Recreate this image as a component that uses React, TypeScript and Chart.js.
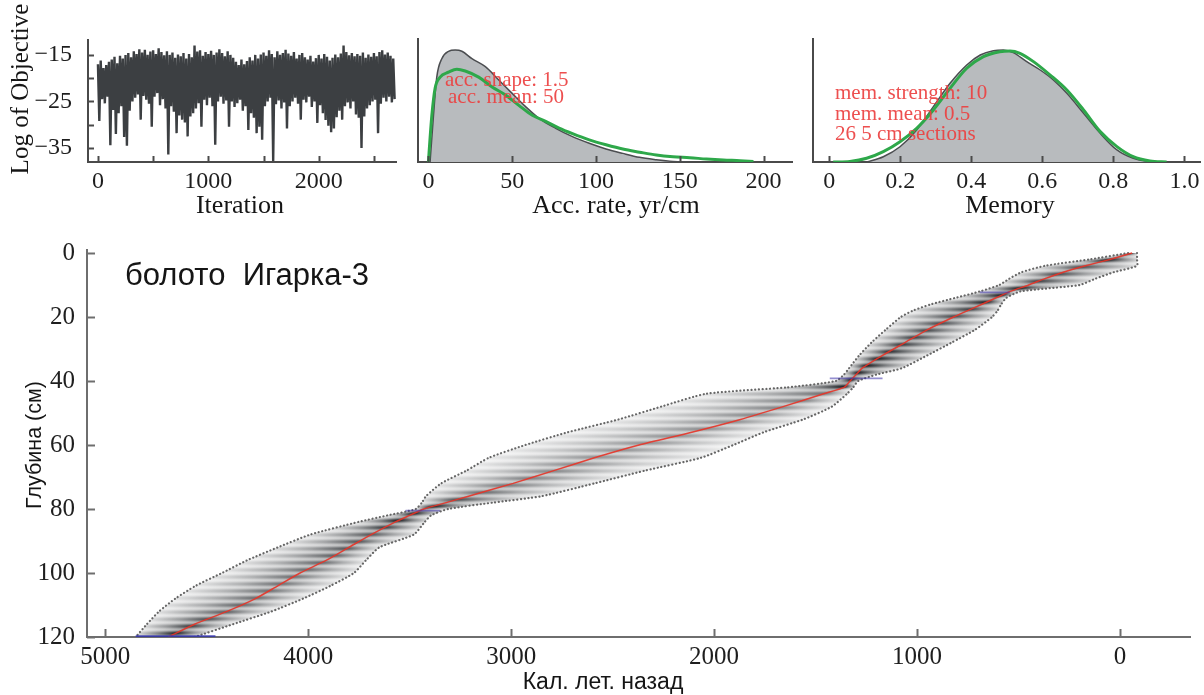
import React, { useEffect, useRef } from 'react';
import { Chart, registerables } from 'chart.js';
Chart.register(...registerables);

const SERIF = '"Liberation Serif", "Times New Roman", serif';
const SANS = '"Liberation Sans", Arial, sans-serif';

// ---------- Panel 1: MCMC trace (log of objective), read per 25-iteration bin ----------
const traceBinStep = 25;
const traceHigh = [
  -17.0, -16.2, -17.8, -17.2, -16.5, -16.0, -15.4, -16.8, -15.2, -15.8,
  -15.0, -14.6, -15.5, -14.2, -14.8, -13.8, -14.5, -13.9, -15.0, -14.3,
  -14.0, -14.8, -13.6, -14.4, -15.1, -14.2, -15.0, -14.5, -15.6, -14.9,
  -15.3, -14.6, -15.8, -14.8, -15.5, -13.0, -14.3, -14.0, -15.2, -14.4,
  -14.8, -14.1, -15.0, -14.5, -13.8, -14.6, -15.3, -14.2, -15.0, -15.6,
  -16.5, -17.2, -16.0, -17.0, -16.3, -15.5, -16.2, -15.0, -15.8, -14.9,
  -14.5, -15.2, -14.0, -14.8, -15.5, -14.2, -15.0, -14.6, -13.9, -14.7,
  -15.2, -14.4, -15.8, -15.0, -14.6, -15.5, -16.0, -15.2, -16.4, -15.7,
  -15.0, -15.8, -14.8, -15.4, -16.2, -15.6, -14.9, -15.5, -14.7, -13.0,
  -14.4, -15.1, -14.6, -15.3, -14.8, -15.2, -14.5, -15.6, -14.9, -15.4,
  -14.6, -15.3, -14.4, -14.0, -14.9, -14.5, -15.2, -15.8,
];
const traceLow = [
  -29.2, -24.5, -25.4, -24.0, -34.4, -26.8, -32.0, -27.5, -26.0, -32.6,
  -34.5, -27.0, -25.0, -24.2, -23.5, -28.9, -23.8, -24.6, -25.5, -30.4,
  -24.0, -23.2, -25.8, -24.5, -26.5, -36.4, -26.0, -27.2, -31.8, -28.0,
  -28.9, -29.5, -32.5, -28.2, -27.5, -26.5, -25.4, -30.4, -24.6, -25.8,
  -24.2, -26.0, -34.3, -25.0, -24.0, -25.5, -24.8, -30.4, -25.0, -26.2,
  -25.4, -24.6, -27.0, -26.0, -31.1, -27.5, -28.5, -31.8, -30.4, -33.2,
  -26.0, -25.0, -24.2, -37.8, -25.6, -24.8, -26.5, -25.2, -30.8, -26.0,
  -25.0, -24.2, -25.5, -28.9, -24.6, -25.2, -24.0, -26.2, -25.0, -29.6,
  -25.8, -27.5, -29.0, -30.2, -31.6, -30.8, -28.4, -27.0, -28.9, -26.0,
  -25.2, -26.5, -25.0, -27.8, -28.5, -35.0, -28.2, -26.5, -25.8, -25.0,
  -24.6, -31.8, -25.5, -24.2, -25.0, -24.0, -25.2, -24.5,
];
const traceYTicks = [-35, -30, -25, -20, -15];
const traceYLabels = ['−35', '', '−25', '', '−15'];
const traceXTicks = [0, 500, 1000, 1500, 2000, 2500];
const traceXLabels = ['0', '', '1000', '', '2000', ''];

// ---------- Panel 2: accumulation rate ----------
const accPostX = [1, 3, 5, 8, 12, 16, 20, 26, 34, 42, 50, 58, 66, 76, 86, 96, 106, 116, 126, 136, 146, 156];
const accPostY = [0, 0.37, 0.69, 0.84, 0.9, 0.91, 0.9, 0.84, 0.775, 0.667, 0.558, 0.45, 0.355, 0.274, 0.206, 0.152, 0.106, 0.07, 0.038, 0.019, 0.005, 0];
const accPriorX = [0, 2, 4, 7, 12, 17, 22, 30, 38, 46, 54, 62, 70, 78, 86, 96, 106, 116, 126, 136, 146, 156, 166, 176, 186, 194];
const accPriorY = [0, 0.37, 0.6, 0.69, 0.73, 0.755, 0.74, 0.69, 0.61, 0.545, 0.46, 0.38, 0.33, 0.275, 0.23, 0.18, 0.14, 0.105, 0.08, 0.057, 0.043, 0.035, 0.024, 0.016, 0.011, 0.005];
const accTicks = [0, 50, 100, 150, 200];

// ---------- Panel 3: memory ----------
const memPostX = [0.105, 0.152, 0.199, 0.246, 0.293, 0.34, 0.387, 0.425, 0.462, 0.49, 0.518, 0.556, 0.594, 0.631, 0.669, 0.716, 0.763, 0.81, 0.856, 0.903, 0.931];
const memPostY = [0, 0.043, 0.124, 0.26, 0.45, 0.64, 0.789, 0.87, 0.905, 0.911, 0.889, 0.816, 0.748, 0.667, 0.558, 0.396, 0.233, 0.098, 0.03, 0.003, 0];
const memPriorX = [0.011, 0.058, 0.105, 0.152, 0.199, 0.246, 0.293, 0.34, 0.387, 0.434, 0.48, 0.509, 0.537, 0.575, 0.622, 0.669, 0.716, 0.763, 0.81, 0.856, 0.903, 0.95];
const memPriorY = [0, 0.005, 0.03, 0.084, 0.165, 0.274, 0.423, 0.599, 0.762, 0.857, 0.897, 0.903, 0.884, 0.816, 0.707, 0.585, 0.423, 0.247, 0.125, 0.043, 0.008, 0];
const memTicks = [0, 0.2, 0.4, 0.6, 0.8, 1.0];
const memTickLabels = ['0', '0.2', '0.4', '0.6', '0.8', '1.0'];

// ---------- Main: age-depth model ----------
const depthCm = [0, 2, 4, 6, 8, 10, 12, 14, 16, 18, 20, 24, 28, 32, 36, 38, 40, 42, 44, 48, 52, 56, 60, 64, 68, 72, 76, 78, 80, 82, 84, 88, 92, 96, 100, 104, 108, 112, 116, 120];
const ageMedian = [-60, 50, 170, 280, 370, 450, 540, 610, 680, 750, 820, 950, 1060, 1170, 1270, 1300, 1330, 1360, 1460, 1660, 1870, 2110, 2370, 2590, 2790, 2990, 3210, 3320, 3430, 3500, 3570, 3690, 3800, 3910, 4040, 4150, 4260, 4400, 4560, 4690];
const ageMax = [-40, 150, 370, 485, 545, 595, 690, 810, 930, 1020, 1080, 1155, 1225, 1285, 1335, 1360, 1400, 1640, 2040, 2260, 2470, 2720, 2930, 3110, 3220, 3345, 3420, 3440, 3470, 3610, 3750, 3990, 4150, 4300, 4425, 4555, 4655, 4735, 4795, 4850];
const ageMin = [-84, -84, -84, 30, 120, 200, 490, 560, 585, 603, 630, 715, 830, 950, 1075, 1200, 1290, 1315, 1345, 1420, 1560, 1755, 1905, 2065, 2340, 2590, 2850, 3090, 3310, 3395, 3425, 3480, 3650, 3715, 3775, 3890, 4025, 4180, 4370, 4560];
const dateDepth = [12.3, 39.2, 80.5, 120];
const dateOld = [690, 1430, 3520, 4850];
const dateYoung = [543, 1170, 3350, 4457];
const mainYTicks = [0, 20, 40, 60, 80, 100, 120];
const mainXTicks = [0, 1000, 2000, 3000, 4000, 5000];

type TextItem = { text: string; x: number; y: number; font: string; color?: string; align?: CanvasTextAlign; baseline?: CanvasTextBaseline; rotate?: number };

const textPlugin = (items: TextItem[]) => ({
  id: 'texts',
  afterDraw(chart: any) {
    const ctx = chart.ctx;
    items.forEach((it) => {
      ctx.save();
      ctx.font = it.font;
      ctx.fillStyle = it.color || '#151515';
      ctx.textAlign = it.align || 'left';
      ctx.textBaseline = it.baseline || 'alphabetic';
      ctx.translate(it.x, it.y);
      if (it.rotate) ctx.rotate(it.rotate);
      ctx.fillText(it.text, 0, 0);
      ctx.restore();
    });
  },
});

const inwardTicks = (xLen: number, yLen: number, color: string, width: number) => ({
  id: 'inTicks',
  afterDraw(chart: any) {
    const { ctx, chartArea } = chart;
    ctx.save();
    ctx.strokeStyle = color;
    ctx.lineWidth = width;
    if (xLen > 0) {
      const s = chart.scales.x;
      s.ticks.forEach((t: any) => {
        const px = Math.round(s.getPixelForValue(t.value)) + 0.5;
        ctx.beginPath();
        ctx.moveTo(px, chartArea.bottom);
        ctx.lineTo(px, chartArea.bottom - xLen);
        ctx.stroke();
      });
    }
    if (yLen > 0) {
      const s = chart.scales.y;
      s.ticks.forEach((t: any) => {
        const py = Math.round(s.getPixelForValue(t.value)) + 0.5;
        ctx.beginPath();
        ctx.moveTo(chartArea.left, py);
        ctx.lineTo(chartArea.left + yLen, py);
        ctx.stroke();
      });
    }
    ctx.restore();
  },
});

const lerp = (a: number, b: number, t: number) => a + (b - a) * t;

const bandPlugin = {
  id: 'band',
  beforeDatasetsDraw(chart: any) {
    const { ctx, chartArea } = chart;
    const x = chart.scales.x;
    const y = chart.scales.y;
    ctx.save();
    ctx.beginPath();
    ctx.rect(chartArea.left, chartArea.top, chartArea.right - chartArea.left, chartArea.bottom - chartArea.top);
    ctx.clip();
    const yTop = y.getPixelForValue(depthCm[0]);
    const yBot = y.getPixelForValue(depthCm[depthCm.length - 1]);
    let j = 0;
    for (let py = Math.floor(yTop); py < Math.ceil(yBot); py++) {
      const d = y.getValueForPixel(py + 0.5);
      while (j < depthCm.length - 2 && depthCm[j + 1] < d) j++;
      const t = Math.max(0, Math.min(1, (d - depthCm[j]) / (depthCm[j + 1] - depthCm[j])));
      const xl = x.getPixelForValue(lerp(ageMax[j], ageMax[j + 1], t));
      const xr = x.getPixelForValue(lerp(ageMin[j], ageMin[j + 1], t));
      const xm = x.getPixelForValue(lerp(ageMedian[j], ageMedian[j + 1], t));
      const w = Math.max(2, xr - xl);
      const stripe = 0.72 + 0.28 * Math.cos((2 * Math.PI * d) / 2.2);
      const a = Math.min(0.97, Math.pow(60 / w, 0.6)) * stripe;
      const m = Math.max(0.05, Math.min(0.95, (xm - xl) / w));
      const g = ctx.createLinearGradient(xl, 0, xl + w, 0);
      const c = (k: number) => `rgba(22,26,30,${Math.min(1, a * k).toFixed(3)})`;
      g.addColorStop(0, c(0.2));
      g.addColorStop(m * 0.5, c(0.55));
      g.addColorStop(m, c(1));
      g.addColorStop(m + (1 - m) * 0.5, c(0.55));
      g.addColorStop(1, c(0.2));
      ctx.fillStyle = g;
      ctx.fillRect(xl, py, w, 1);
    }
    ctx.restore();
  },
};

const xy = (xs: number[], ys: number[]) => xs.map((v, i) => ({ x: v, y: ys[i] }));

function linAxis(opts: any) {
  const { min, max, tickVals, labels, size, padding, fit, horizontal, reverse, color, bw, showLabels = true } = opts;
  return {
    type: 'linear',
    min,
    max,
    reverse: !!reverse,
    afterBuildTicks: (s: any) => {
      s.ticks = tickVals.map((v: number) => ({ value: v }));
    },
    afterFit: (s: any) => {
      if (horizontal) s.height = fit;
      else s.width = fit;
    },
    grid: { display: false },
    border: { display: true, color, width: bw },
    ticks: {
      display: showLabels,
      font: { family: SERIF, size },
      color: '#1e1e1e',
      padding,
      maxRotation: 0,
      minRotation: 0,
      autoSkip: false,
      callback: (v: number) => {
        const i = tickVals.indexOf(v);
        return labels ? labels[i] : String(v);
      },
    },
  };
}

const baseOpts = (padding: any) => ({
  responsive: false,
  animation: false,
  events: [],
  layout: { padding },
  plugins: { legend: { display: false }, tooltip: { enabled: false }, title: { display: false } },
});

export default function App() {
  const c1 = useRef<HTMLCanvasElement>(null);
  const c2 = useRef<HTMLCanvasElement>(null);
  const c3 = useRef<HTMLCanvasElement>(null);
  const c4 = useRef<HTMLCanvasElement>(null);

  useEffect(() => {
    const charts: Chart[] = [];
    const topAxisColor = '#4a4a4a';

    // Panel 1 trace
    const tracePts: { x: number; y: number }[] = [];
    traceHigh.forEach((h, i) => {
      tracePts.push({ x: i * traceBinStep, y: h });
      tracePts.push({ x: i * traceBinStep + traceBinStep / 2, y: traceLow[i] });
    });
    charts.push(
      new Chart(c1.current!, {
        type: 'line',
        data: {
          datasets: [
            { data: tracePts, borderColor: '#3c3f42', borderWidth: 2.4, borderJoinStyle: 'bevel', pointRadius: 0, tension: 0 } as any,
          ],
        },
        options: {
          ...baseOpts({ top: 40, right: 9, left: 0, bottom: 0 }),
          scales: {
            x: linAxis({ min: -90, max: 2700, tickVals: traceXTicks, labels: traceXLabels, size: 24, padding: -3, fit: 63, horizontal: true, color: topAxisColor, bw: 2 }),
            y: linAxis({ min: -38, max: -11.8, tickVals: traceYTicks, labels: traceYLabels, size: 24, padding: 8, fit: 88, horizontal: false, color: topAxisColor, bw: 2 }),
          },
        } as any,
        plugins: [
          inwardTicks(6, 6, topAxisColor, 2),
          textPlugin([
            { text: 'Log of Objective', x: 21, y: 89, font: `25px ${SERIF}`, align: 'center', baseline: 'middle', rotate: -Math.PI / 2 },
            { text: 'Iteration', x: 240, y: 213, font: `26px ${SERIF}`, align: 'center' },
          ]),
        ],
      })
    );

    // Panel 2 acc rate
    charts.push(
      new Chart(c2.current!, {
        type: 'line',
        data: {
          datasets: [
            { data: xy(accPriorX, accPriorY), borderColor: '#2ea84a', borderWidth: 3, pointRadius: 0, tension: 0.4, cubicInterpolationMode: 'monotone', fill: false } as any,
            { data: xy(accPostX, accPostY), borderColor: '#4b4d50', backgroundColor: '#b8bbbe', borderWidth: 1.5, pointRadius: 0, tension: 0.4, cubicInterpolationMode: 'monotone', fill: 'origin' } as any,
          ],
        },
        options: {
          ...baseOpts({ top: 39, right: 13, left: 0, bottom: 0 }),
          scales: {
            x: linAxis({ min: -6.2, max: 217, tickVals: accTicks, size: 24, padding: -3, fit: 63, horizontal: true, color: topAxisColor, bw: 2 }),
            y: linAxis({ min: 0, max: 1, tickVals: [], size: 24, padding: 0, fit: 13, horizontal: false, color: topAxisColor, bw: 2, showLabels: false }),
          },
        } as any,
        plugins: [
          inwardTicks(6, 0, topAxisColor, 2),
          textPlugin([
            { text: 'acc. shape: 1.5', x: 40, y: 86, font: `21px ${SERIF}`, color: 'rgba(236,64,64,0.92)' },
            { text: 'acc. mean: 50', x: 43, y: 103, font: `21px ${SERIF}`, color: 'rgba(236,64,64,0.92)' },
            { text: 'Acc. rate, yr/cm', x: 211, y: 213, font: `26px ${SERIF}`, align: 'center' },
          ]),
        ],
      })
    );

    // Panel 3 memory
    charts.push(
      new Chart(c3.current!, {
        type: 'line',
        data: {
          datasets: [
            { data: xy(memPriorX, memPriorY), borderColor: '#2ea84a', borderWidth: 3, pointRadius: 0, tension: 0.4, cubicInterpolationMode: 'monotone', fill: false } as any,
            { data: xy(memPostX, memPostY), borderColor: '#4b4d50', backgroundColor: '#b8bbbe', borderWidth: 1.5, pointRadius: 0, tension: 0.4, cubicInterpolationMode: 'monotone', fill: 'origin' } as any,
          ],
        },
        options: {
          ...baseOpts({ top: 39, right: 4, left: 0, bottom: 0 }),
          scales: {
            x: linAxis({ min: -0.046, max: 1.044, tickVals: memTicks, labels: memTickLabels, size: 24, padding: -3, fit: 63, horizontal: true, color: topAxisColor, bw: 2 }),
            y: linAxis({ min: 0, max: 1, tickVals: [], size: 24, padding: 0, fit: 13, horizontal: false, color: topAxisColor, bw: 2, showLabels: false }),
          },
        } as any,
        plugins: [
          inwardTicks(6, 0, topAxisColor, 2),
          textPlugin([
            { text: 'mem. strength: 10', x: 35, y: 99, font: `21px ${SERIF}`, color: 'rgba(236,64,64,0.92)' },
            { text: 'mem. mean: 0.5', x: 35, y: 120, font: `21px ${SERIF}`, color: 'rgba(236,64,64,0.92)' },
            { text: '26 5 cm sections', x: 35, y: 140, font: `21px ${SERIF}`, color: 'rgba(236,64,64,0.92)' },
            { text: 'Memory', x: 210, y: 213, font: `26px ${SERIF}`, align: 'center' },
          ]),
        ],
      })
    );

    // Main age-depth
    const mainAxisColor = '#6e6e6e';
    const dateSets = dateDepth.map((d, i) => ({
      data: [{ x: dateOld[i], y: d }, { x: dateYoung[i], y: d }],
      borderColor: i === dateDepth.length - 1 ? 'rgba(52,52,175,0.85)' : 'rgba(60,50,170,0.55)',
      borderWidth: i === dateDepth.length - 1 ? 3.5 : 1.8,
      pointRadius: 0,
    }));
    charts.push(
      new Chart(c4.current!, {
        type: 'line',
        data: {
          datasets: [
            ...dateSets,
            { data: xy(ageMedian, depthCm), borderColor: 'rgba(232,52,40,0.9)', borderWidth: 1.5, pointRadius: 0, tension: 0.2 },
            { data: xy(ageMax, depthCm), borderColor: 'rgba(95,95,95,0.95)', borderWidth: 2.2, borderDash: [0.1, 3.6], borderCapStyle: 'round', pointRadius: 0, tension: 0.2 },
            { data: xy(ageMin, depthCm), borderColor: 'rgba(95,95,95,0.95)', borderWidth: 2.2, borderDash: [0.1, 3.6], borderCapStyle: 'round', pointRadius: 0, tension: 0.2 },
          ] as any,
        },
        options: {
          ...baseOpts({ top: 20, right: 14, left: 0, bottom: 0 }),
          scales: {
            x: linAxis({ min: -345, max: 5090, reverse: true, tickVals: mainXTicks, size: 25, padding: -3, fit: 58, horizontal: true, color: mainAxisColor, bw: 2 }),
            y: linAxis({ min: -0.94, max: 120, reverse: true, tickVals: mainYTicks, size: 25, padding: 4, fit: 87, horizontal: false, color: mainAxisColor, bw: 2 }),
          },
        } as any,
        plugins: [
          bandPlugin,
          inwardTicks(8, 8, mainAxisColor, 2),
          textPlugin([
            { text: 'болото  Игарка-3', x: 125, y: 55, font: `31px ${SANS}` },
            { text: 'Глубина (см)', x: 35, y: 215, font: `21.5px ${SANS}`, align: 'center', baseline: 'middle', rotate: -Math.PI / 2 },
            { text: 'Кал. лет. назад', x: 603, y: 453, font: `23px ${SANS}`, align: 'center', baseline: 'middle' },
          ]),
        ],
      })
    );

    return () => charts.forEach((c) => c.destroy());
  }, []);

  const pos = (l: number, t: number, w: number, h: number): React.CSSProperties => ({ position: 'absolute', left: l, top: t, width: w, height: h });

  return (
    <div style={{ position: 'absolute', left: 0, top: 0, width: 1204, height: 695, background: '#fff', overflow: 'hidden' }}>
      <canvas ref={c1} width={405} height={225} style={pos(0, 0, 405, 225)} />
      <canvas ref={c2} width={400} height={225} style={pos(405, 0, 400, 225)} />
      <canvas ref={c3} width={404} height={225} style={pos(800, 0, 404, 225)} />
      <canvas ref={c4} width={1204} height={465} style={pos(0, 230, 1204, 465)} />
    </div>
  );
}
